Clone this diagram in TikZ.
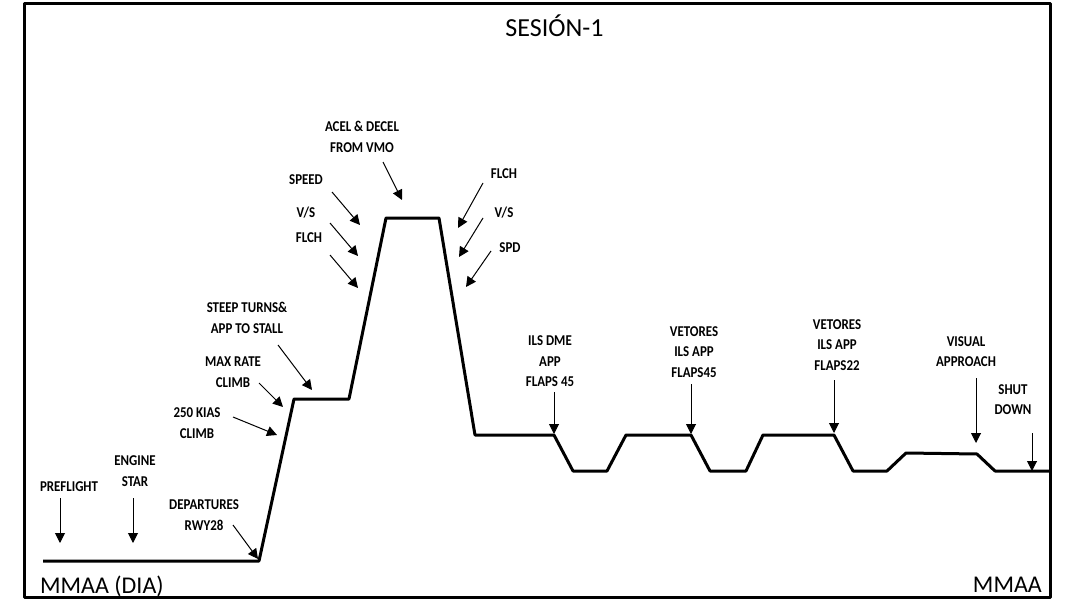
\documentclass[tikz,border=0pt]{standalone}
\usepackage{fontspec}
\setmainfont{Carlito}
\newfontfamily\condfont[FakeStretch=0.86]{Carlito}
\usetikzlibrary{arrows.meta}
\begin{document}
\begin{tikzpicture}[x=1pt,y=-1pt,>={Triangle[length=10pt,width=10pt]},line join=round,
	lbl/.style={font=\condfont\bfseries\fontsize{15}{20.5}\selectfont,align=center,inner sep=0pt},
	big/.style={font=\fontsize{24}{28}\selectfont,inner sep=0pt}]
	\useasboundingbox (0,0) rectangle (1079,607);
	% flight profile
	\path
	(43,561) coordinate (S)
	(259,561) coordinate (T)
	(294,399) coordinate (A1)
	(349,399) coordinate (A2)
	(386,218) coordinate (P1)
	(439,218) coordinate (P2)
	(475,435) coordinate (D1)
	(554,435) coordinate (D2)
	(573,471) coordinate (D3)
	(607,471) coordinate (D4)
	(626,435) coordinate (D5)
	(691,435) coordinate (D6)
	(710,471) coordinate (D7)
	(746,471) coordinate (D8)
	(763,435) coordinate (D9)
	(834,435) coordinate (D10)
	(853,471) coordinate (D11)
	(887,471) coordinate (D12)
	(906,453) coordinate (D13)
	(977,454) coordinate (D14)
	(995,471) coordinate (D15)
	(1050,471) coordinate (E)
	;
	% arrow tails and tips
	\path
	(60,498) coordinate (t1) (60,543) coordinate (h1)
	(133,498) coordinate (t2) (133,543) coordinate (h2)
	(233,525) coordinate (t3) (258,559) coordinate (h3)
	(233,417) coordinate (t4) (277,435) coordinate (h4)
	(259,383) coordinate (t5) (283,407) coordinate (h5)
	(278,345) coordinate (t6) (312,390) coordinate (h6)
	(332,192) coordinate (t7) (360,225) coordinate (h7)
	(330,223) coordinate (t8) (358,256) coordinate (h8)
	(330,255) coordinate (t9) (358,288) coordinate (h9)
	(383,162) coordinate (t10) (402,200) coordinate (h10)
	(483,183) coordinate (t11) (458,228) coordinate (h11)
	(483,218) coordinate (t12) (459,257) coordinate (h12)
	(491,251) coordinate (t13) (466,287) coordinate (h13)
	(554,392) coordinate (t14) (554,434) coordinate (h14)
	(691,384) coordinate (t15) (691,434) coordinate (h15)
	(834,380) coordinate (t16) (834,433) coordinate (h16)
	(976,378) coordinate (t17) (976,443) coordinate (h17)
	(1032,433) coordinate (t18) (1032,471) coordinate (h18)
	;
	\draw[line width=3pt] (24,4) rectangle (1050,597);
	\draw[line width=3pt] (S)--(T)--(A1)--(A2)--(P1)--(P2)--(D1)--(D2)--(D3)--(D4)--(D5)--(D6)--(D7)--(D8)--(D9)--(D10)--(D11)--(D12)--(D13)--(D14)--(D15)--(E);
	\foreach \i in {1,...,18}\draw[->,line width=1pt] (t\i)--(h\i);
	% texts
	\node[big,anchor=base,font=\fontsize{26}{30}\selectfont] (title) at (554.5,37) {SESIÓN-1};
	\node[big,anchor=base west] (orig) at (40,593) {MMAA (DIA)};
	\node[big,anchor=base east] (dest) at (1042,592) {MMAA};
	\node[lbl] (pre) at (69,487) {PREFLIGHT};
	\node[lbl] (eng) at (135,471) {ENGINE\\STAR};
	\node[lbl] (dep) at (204,515) {DEPARTURES\\RWY28};
	\node[lbl] (kias) at (197,423) {250 KIAS\\CLIMB};
	\node[lbl] (maxr) at (233,372) {MAX RATE\\CLIMB};
	\node[lbl] (steep) at (247,318) {STEEP TURNS\&\\APP TO STALL};
	\node[lbl] (spd) at (306,180) {SPEED};
	\node[lbl] (vs) at (306,213) {V/S};
	\node[lbl] (flch) at (309,238) {FLCH};
	\node[lbl] (acel) at (362,137) {ACEL \& DECEL\\FROM VMO};
	\node[lbl] (flchr) at (504,174) {FLCH};
	\node[lbl] (vsr) at (504,213) {V/S};
	\node[lbl] (spdr) at (510,248) {SPD};
	\node[lbl] (ils) at (550,361.5) {ILS DME\\APP\\FLAPS 45};
	\node[lbl] (vet1) at (694,352) {VETORES\\ILS APP\\FLAPS45};
	\node[lbl] (vet2) at (837,345) {VETORES\\ILS APP\\FLAPS22};
	\node[lbl] (vis) at (966,351.5) {VISUAL\\APPROACH};
	\node[lbl] (shut) at (1013,399.5) {SHUT\\DOWN};
\end{tikzpicture}
\end{document}
